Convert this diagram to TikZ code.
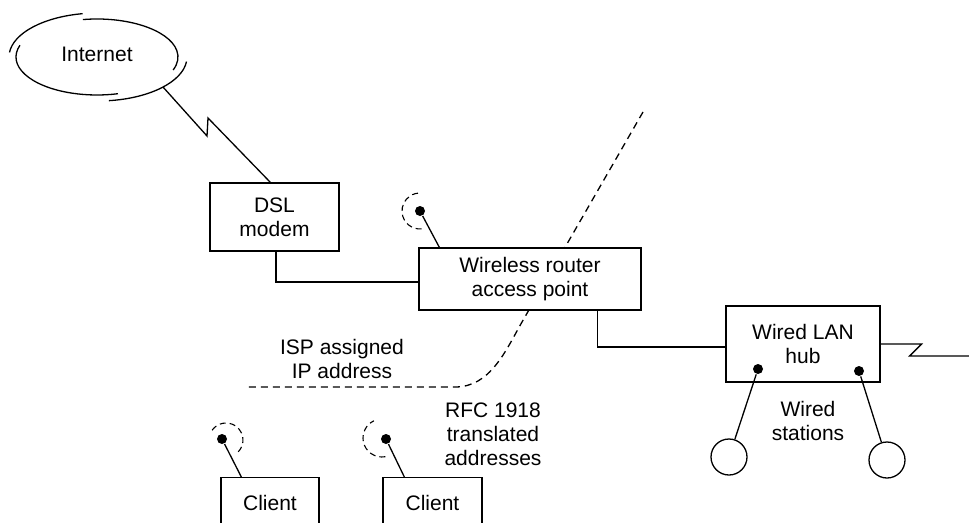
\documentclass[tikz,border=0pt]{standalone}
\usepackage{fontspec}
\setmainfont{Liberation Sans}
\usetikzlibrary{calc}
\begin{document}
\begin{tikzpicture}[x=1pt,y=-1pt, line width=1.3pt,
  txt/.style={font=\fontsize{21}{24}\selectfont},
  box/.style={draw, fill=white, inner sep=0pt, align=center, txt},
  clientbox/.style={draw, fill=white, inner sep=0pt, anchor=north, minimum width=98pt, text height=33pt, text depth=40pt, txt},
  lbl/.style={inner sep=0pt, align=center, txt},
  dot/.style={circle, fill, inner sep=0pt, minimum size=10pt},
  station/.style={circle, draw, inner sep=0pt, minimum size=36pt},
  radio/.style={dash pattern=on 6pt off 4pt, line width=1.1pt},
  boundary/.style={dash pattern=on 7pt off 5pt, line width=1.3pt},
]
\useasboundingbox (0,0) rectangle (969,522);
\clip (0,0) rectangle (969,522);
\fill[white] (0,0) rectangle (969,522);

% boundary (drawn first, hidden under router box)
\coordinate (bTop) at (643,112);
\coordinate (bLeft) at (247,387);
\draw[boundary] (bTop) -- (522,322) .. controls (505,352) and (490,387) .. (455,387) -- (bLeft);

% Internet cloud
\node[lbl] (internet) at (97,54) {Internet};
\coordinate (ecA) at (98,57);
\coordinate (ecB) at (97,57);
\draw (ecA) ++(186:89 and 44) arc[start angle=186, end angle=260, x radius=89, y radius=44];
\draw (ecA) ++(6:89 and 44) arc[start angle=6, end angle=83, x radius=89, y radius=44];
\draw (ecB) ++(-100:81 and 38) arc[start angle=-100, end angle=20, x radius=81, y radius=38];
\draw (ecB) ++(198:81 and 38) arc[start angle=198, end angle=75, x radius=81, y radius=38];
\coordinate (inetA) at (163,87);

% boxes
\node[box, minimum width=129pt, minimum height=68pt] (dsl) at (274.5,217) {DSL\\modem};
\node[box, minimum width=222pt, minimum height=62pt] (router) at (530,279) {Wireless router\\access point};
\node[box, minimum width=154pt, minimum height=76pt] (hub) at (803,344) {Wired LAN\\hub};
\node[clientbox] (client1) at (270,477) {Client};
\node[clientbox, minimum width=99pt] (client2) at (432.5,477) {Client};

% links
\draw (inetA) -- (207,136) -- (208,118) -- ($(dsl.north west)+(61,0)$);
\draw ($(dsl.south)+(1.5,0)$) |- ($(router.west)+(0,3)$);
\draw ($(router.south east)+(-44,0)$) |- ($(hub.west)+(0,3)$);
\coordinate (lanEnd) at (969,356);
\draw (hub.east) -- ++(41,0) -- ++(-12,12) -- (lanEnd);

% antennas
\node[dot] (rant) at (420,211) {};
\draw (rant) -- ($(router.north west)+(21,0)$);
\draw[radio] (rant.center) ++(85:18) arc[start angle=85, end angle=275, radius=18];

\node[dot] (c1ant) at (222,439) {};
\draw (c1ant) -- ($(client1.north west)+(21,0)$);
\draw[radio] ($(c1ant.center)+(4,1)$) ++(215:17) arc[start angle=215, end angle=410, radius=17];

\node[dot] (c2ant) at (386,439) {};
\draw (c2ant) -- ($(client2.north west)+(22,0)$);
\draw[radio] ($(c2ant.center)+(-4,-1)$) ++(80:19) arc[start angle=80, end angle=245, radius=19];

% wired stations
\node[dot] (h1) at (758,369) {};
\node[dot] (h2) at (859,371) {};
\node[station] (s1) at (729,457) {};
\node[station] (s2) at (887,460) {};
\draw (h1) -- (s1);
\draw (h2) -- (s2);

% labels
\node[lbl] (isp) at (342,358.5) {ISP assigned\\IP address};
\node[lbl] (rfc) at (493,434.5) {RFC 1918\\translated\\addresses};
\node[lbl] (wst) at (808,420.5) {Wired\\stations};
\end{tikzpicture}
\end{document}
